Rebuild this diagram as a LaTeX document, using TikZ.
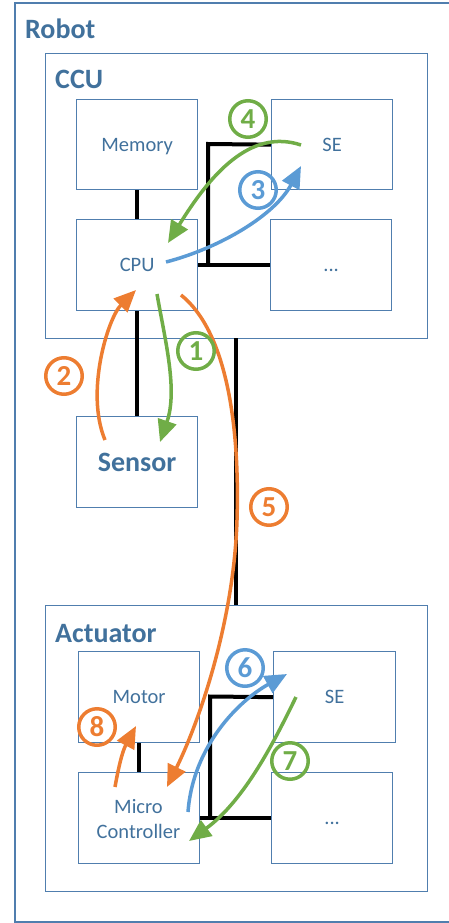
\documentclass[tikz,border=0pt]{standalone}
\usepackage{fontspec}
\setmainfont{Carlito}
\usetikzlibrary{arrows.meta}
\definecolor{boxblue}{RGB}{80,126,174}
\definecolor{txtblue}{RGB}{65,113,156}
\definecolor{ogreen}{RGB}{112,173,71}
\definecolor{oorange}{RGB}{237,125,49}
\definecolor{oblue}{RGB}{91,155,213}
\begin{document}
\begin{tikzpicture}[x=1pt,y=-1pt,
  box/.style={draw=boxblue,line width=1.3pt,text=txtblue,
    font=\fontsize{20.5}{25}\selectfont,text height=13pt,text depth=0pt,
    inner sep=0pt,anchor=north west,align=center},
  lbl/.style={text=txtblue,font=\fontsize{20.5}{25}\selectfont,inner sep=0pt,anchor=base},
  title/.style={text=txtblue,font=\bfseries\fontsize{28}{28}\selectfont,inner sep=0pt,anchor=base west},
  bus/.style={line width=4pt,black},
  flow/.style={line width=3.5pt,draw=#1,-{Triangle[length=22pt,width=19pt]}},
  num/.style={circle,draw=#1,text=#1,line width=3.5pt,minimum size=36.5pt,inner sep=0pt,
    font=\bfseries\fontsize{29}{29}\selectfont}]
\useasboundingbox (0,0) rectangle (449,923);
% Robot frame (right edge outside picture)
\draw[draw=boxblue,line width=1.3pt] (449,3) -- (15,3) -- (15,922) -- (449,922);
\node[title] (trobot) at (25,39) {Robot};
% CCU
\node[box,minimum width=382pt,minimum height=285pt] (ccu) at (45,53) {};
\node[title] (tccu) at (55,89) {CCU};
\node[box,minimum width=121pt,minimum height=90pt] (mem) at (76,99) {Memory};
\node[box,minimum width=121pt,minimum height=90pt] (se) at (271,99) {SE};
\node[box,minimum width=121pt,minimum height=91pt] (cpu) at (76,219) {CPU};
\node[box,minimum width=121pt,minimum height=91pt] (dots) at (270,219) {...};
% Sensor
\node[box,minimum width=121pt,minimum height=91pt,font=\bfseries\fontsize{28}{28}\selectfont,text height=18pt] (sensor) at (76,416) {Sensor};
% Actuator
\node[box,minimum width=382pt,minimum height=286pt] (act) at (45,605) {};
\node[title] (tact) at (55,642) {Actuator};
\node[box,minimum width=121pt,minimum height=91pt] (motor) at (78,651) {Motor};
\node[box,minimum width=122pt,minimum height=91pt] (se2) at (273,651) {SE};
\node[box,minimum width=121pt,minimum height=91pt] (mc) at (78,772) {};
\node[lbl] (mct1) at (138.5,813) {Micro};
\node[lbl] (mct2) at (138.5,838) {Controller};
\node[box,minimum width=121pt,minimum height=91pt] (dots2) at (271,772) {...};
% buses
\draw[bus] (mem.south) -- (cpu.north);
\draw[bus] (cpu.south) -- (sensor.north);
\coordinate (b1) at (208,144);
\draw[bus] (se.west) -- (b1) -- (b1 |- cpu.east);
\draw[bus] (cpu.east) -- (dots.west);
\coordinate (m1) at (236,338);
\coordinate (m2) at (236,605);
\draw[bus] (m1) -- (m2);
\draw[bus] (motor.south) -- (mc.north);
\coordinate (b2) at (210,696.5);
\draw[bus] (se2.west) -- (b2) -- (b2 |- mc.east);
\draw[bus] (mc.east) -- (dots2.west);
% flow arrows
\coordinate (a1s) at (157,294); \coordinate (a1e) at (160,442);
\draw[flow=ogreen] (a1s) .. controls (165,340) and (178,390) .. (a1e);
\coordinate (a2s) at (105,440); \coordinate (a2e) at (136,290);
\draw[flow=oorange] (a2s) .. controls (85,392) and (108,318) .. (a2e);
\coordinate (a3s) at (166,262); \coordinate (a3e) at (301,166);
\draw[flow=oblue] (a3s) .. controls (220,248) and (275,215) .. (a3e);
\coordinate (a4s) at (301,145); \coordinate (a4e) at (168,243);
\draw[flow=ogreen] (a4s) .. controls (250,128) and (210,175) .. (a4e);
\coordinate (a5s) at (181,295); \coordinate (a5m) at (237,520); \coordinate (a5e) at (167,787);
\draw[flow=oorange] (a5s) .. controls (225,330) and (240,420) .. (a5m) .. controls (234,620) and (200,720) .. (a5e);
\coordinate (a6s) at (188,812); \coordinate (a6e) at (287,674);
\draw[flow=oblue] (a6s) .. controls (193,745) and (240,700) .. (a6e);
\coordinate (a7s) at (296,697); \coordinate (a7e) at (189,841);
\draw[flow=ogreen] (a7s) .. controls (275,740) and (245,800) .. (a7e);
\coordinate (a8s) at (115,787); \coordinate (a8e) at (136,726);
\draw[flow=oorange] (a8s) .. controls (118,770) and (122,752) .. (a8e);
% step numbers
\node[num=ogreen] (n1) at (196,351) {1};
\node[num=oorange] (n2) at (64,376) {2};
\node[num=oblue] (n3) at (258,190) {3};
\node[num=ogreen] (n4) at (248,119) {4};
\node[num=oorange] (n5) at (269,507) {5};
\node[num=oblue] (n6) at (245,668) {6};
\node[num=ogreen] (n7) at (290,761) {7};
\node[num=oorange] (n8) at (97,727) {8};
\end{tikzpicture}
\end{document}
